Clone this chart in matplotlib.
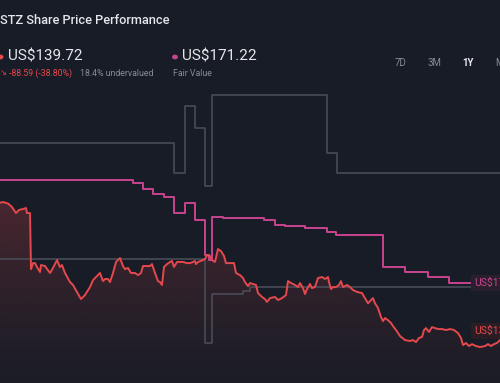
import numpy as np
import matplotlib
matplotlib.use("Agg")
import matplotlib.pyplot as plt

# ---------------- data ----------------
price_day = [0, 3, 8, 12, 16, 19, 23, 26, 27, 30, 31, 33, 35, 37, 40, 41, 45, 50, 53, 57, 60, 62, 65, 70, 73, 77,
             81, 85, 90, 93, 97, 100, 103, 105, 108, 110, 113, 116, 120, 123, 125, 128, 131, 135, 138, 141, 143,
             147, 150, 152, 155, 158, 160, 162, 164, 167, 170, 172, 174, 177, 183, 187, 190, 193, 195, 196, 198,
             203, 205, 207, 210, 212, 215, 218, 221, 224, 226, 230, 234, 236, 240, 243, 245, 248, 250, 253, 256,
             258, 262, 265, 267, 270, 275, 278, 282, 286, 288, 291, 295, 298, 300, 303, 305, 307, 310, 312, 315,
             318, 322, 325, 328, 329, 331, 333, 336, 339, 341, 343, 347, 350, 353, 357, 362, 365, 368, 371, 373,
             375, 378, 381, 383, 385, 388, 391, 393, 396, 400, 405, 410, 413, 416, 419, 422, 424, 426, 429, 432,
             435, 438, 442, 446, 450, 454, 458, 461, 463, 466, 469, 472, 476, 480, 485, 488, 491, 494, 497, 500]
price_val = [220.8, 221.2, 220.3, 218.1, 214.4, 216.3, 216.9, 217.5, 214.4, 214.4, 179.8, 183.5, 183.5, 181.1,
             178.0, 182.3, 181.7, 177.4, 180.5, 185.4, 181.1, 182.3, 177.4, 171.8, 170.0, 165.7, 161.3, 163.8,
             168.7, 173.0, 175.5, 177.4, 172.4, 173.7, 173.7, 171.8, 177.4, 184.2, 186.6, 181.7, 179.8, 180.5,
             177.4, 177.4, 176.1, 177.4, 181.7, 181.7, 181.7, 182.9, 177.4, 172.4, 171.8, 170.0, 181.1, 182.9,
             184.2, 184.8, 181.1, 184.2, 184.2, 183.5, 183.5, 184.2, 184.8, 182.9, 184.2, 185.4, 186.0, 188.5,
             187.9, 185.4, 184.2, 192.2, 190.9, 187.9, 183.5, 183.5, 183.5, 177.4, 176.1, 174.3, 171.8, 169.3,
             171.2, 170.6, 170.0, 165.0, 162.6, 161.3, 159.5, 161.9, 162.6, 160.7, 161.9, 163.8, 172.4, 171.2,
             170.0, 168.7, 171.2, 168.1, 164.4, 167.5, 170.6, 168.1, 168.7, 174.3, 174.9, 173.7, 174.9, 171.8,
             167.5, 168.7, 168.7, 170.0, 172.4, 168.7, 170.0, 168.7, 166.9, 165.7, 165.0, 161.9, 158.7, 160.7,
             161.9, 158.7, 155.8, 150.2, 147.7, 149.6, 148.3, 146.5, 144.6, 142.2, 138.5, 136.0, 135.4, 136.0,
             134.8, 137.3, 137.9, 142.2, 143.4, 141.0, 144.0, 143.4, 142.8, 142.8, 142.2, 142.8, 142.2, 140.3,
             137.3, 132.9, 134.2, 132.3, 133.5, 132.3, 131.7, 132.3, 133.5, 132.3, 133.5, 134.2, 136.0]

fair_day = [0, 133, 143, 153, 164, 174, 184.5, 195, 205, 208.5, 212, 223, 264, 275, 285, 305, 327, 336, 383,
            405, 428, 449, 472]
fair_val = [234.8, 233.1, 229.2, 226.1, 224.3, 214.4, 220.6, 210.1, 188.5, 185.4, 211.9, 211.3, 210.1, 207.0,
            206.4, 205.2, 202.7, 200.8, 181.1, 178.0, 174.9, 171.2, 171.2]

high_day = [0, 174, 184.5, 195, 205, 212, 327, 337, 500]
high_val = [257.6, 239.1, 280.5, 266.9, 231.1, 287.3, 251.5, 239.1, 239.1]

low_day = [0, 205, 212, 243, 250, 500]
low_val = [186.0, 134.2, 164.4, 166.3, 168.7, 168.7]

periods = ["7D", "3M", "1Y", "MAX"]
last_price = "US$139.72"
fair_value = "US$171.22"
change_txt = "-88.59 (-38.80%)"
under_txt = "18.4% undervalued"

# ---------------- style ----------------
BG = "#181c26"
RED = "#e5484d"
PINK = "#c9448e"
GRAY = "#4a4f5b"
TXT = "#e4e6ea"
MUTED = "#868b96"

W, H = 500, 383
fig = plt.figure(figsize=(W / 100, H / 100), dpi=100, facecolor=BG)
ax = fig.add_axes([0, 0, 1, 1], facecolor=BG)
ax.set_xlim(0, 500)
ymin, ymax = 109.5, 345.9
ax.set_ylim(ymin, ymax)
ax.axis("off")

# gray step lines
ax.step(high_day, high_val, where="post", color=GRAY, lw=1.1, zorder=2)
ax.step(low_day, low_val, where="post", color=GRAY, lw=1.1, zorder=2)

# gradient fill under price
poly = ax.fill_between(price_day, price_val, ymin, color="none", lw=0)
top = max(price_val)
grad = np.linspace(0, 1, 256).reshape(-1, 1)
rgba = np.zeros((256, 1, 4))
rgba[..., 0] = 229 / 255
rgba[..., 1] = 72 / 255
rgba[..., 2] = 77 / 255
rgba[..., 3] = (0.02 + 0.22 * grad[:, :] ** 1.3)
im = ax.imshow(rgba, extent=[0, 500, ymin, top], origin="lower", aspect="auto", zorder=1)
im.set_clip_path(poly.get_paths()[0], transform=ax.transData)

# fair value line
ax.step(fair_day, fair_val, where="post", color=PINK, lw=1.4, zorder=3)
# price line
ax.plot(price_day, price_val, color=RED, lw=1.4, zorder=4, solid_joinstyle="round")

# right-edge value labels (cut by the chart edge, as in the reference)
ax.text(474, fair_val[-1], fair_value, color=PINK, fontsize=7.5, family=["Roboto", "DejaVu Sans"],
        va="center", ha="left", zorder=6,
        bbox=dict(boxstyle="square,pad=0.3", fc="#2a1f2d", ec="none"))
ax.text(474, 141.6, last_price, color=RED, fontsize=7.5, family=["Roboto", "DejaVu Sans"],
        va="center", ha="left", zorder=6,
        bbox=dict(boxstyle="square,pad=0.3", fc="#2a1e24", ec="none"))

# ---------------- header text ----------------
def fx(px):
    return px / W

def fy(py):
    return 1 - py / H

fam = ["Roboto", "DejaVu Sans"]
fig.text(fx(0), fy(20), "STZ Share Price Performance", color=TXT, fontsize=9.2, weight="medium",
         family=fam, va="center", ha="left")

fig.patches.append(plt.Circle((fx(0.5), fy(57)), 2.2 / W, transform=fig.transFigure, color=RED,
                              figure=fig))
fig.text(fx(8), fy(57), last_price, color=TXT, fontsize=11, family=fam, va="center", ha="left")
fig.text(fx(0), fy(73), "\u2198", color=RED, fontsize=6, family=["DejaVu Sans"], va="center", ha="left")
fig.text(fx(9), fy(73), change_txt, color=RED, fontsize=6.3, family=fam, va="center", ha="left")
fig.text(fx(80), fy(73), under_txt, color=MUTED, fontsize=6.3, family=fam, va="center", ha="left")

fig.patches.append(plt.Circle((fx(175), fy(57)), 2.2 / W, transform=fig.transFigure, color=PINK,
                              figure=fig))
fig.text(fx(182), fy(57), fair_value, color=TXT, fontsize=11, family=fam, va="center", ha="left")
fig.text(fx(173), fy(73), "Fair Value", color=MUTED, fontsize=6.3, family=fam, va="center", ha="left")

px_pos = [401, 435, 468, 495]
for lab, px in zip(periods, px_pos):
    sel = lab == "1Y"
    fig.text(fx(px), fy(63), lab, color=(TXT if sel else MUTED), fontsize=7,
             weight=("bold" if sel else "normal"), family=fam, va="center",
             ha=("left" if lab == "MAX" else "center"))

fig.savefig("out.png", dpi=100, facecolor=BG)
